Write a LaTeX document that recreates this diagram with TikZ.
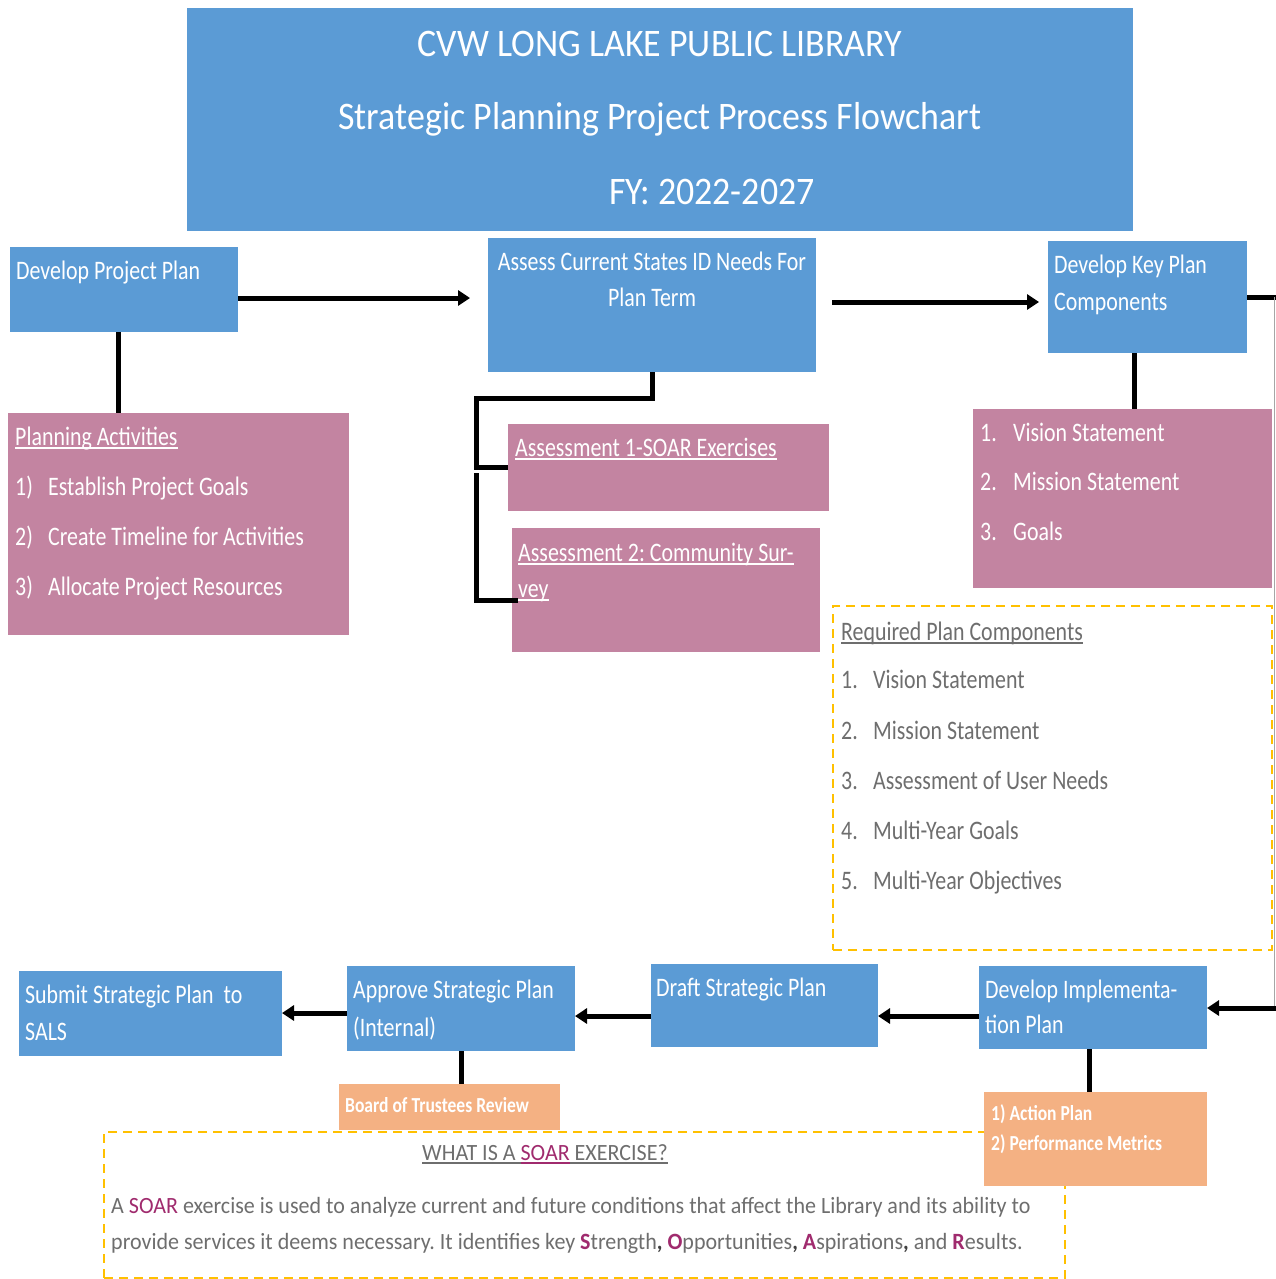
\documentclass[tikz,border=0pt]{standalone}
\usepackage{fontspec}
\setmainfont{Carlito}[FakeStretch=0.82]
\newfontfamily\titlefont{Carlito}[FakeStretch=0.92]
\newfontfamily\bodyfont{Carlito}[FakeStretch=0.945]
\usetikzlibrary{arrows.meta}
\frenchspacing
\definecolor{cblue}{HTML}{5B9BD5}
\definecolor{cpink}{HTML}{C384A1}
\definecolor{corange}{HTML}{F4B183}
\definecolor{cdash}{HTML}{FFC000}
\definecolor{cgray}{HTML}{6E6E6E}
\definecolor{cmag}{HTML}{A02B6E}
\newcommand\myul[1]{\setbox0=\hbox{#1}\rlap{\rule[-3.5pt]{\wd0}{1.8pt}}\box0}
\tikzset{
  box/.style={rectangle, inner sep=0pt, outer sep=0pt, anchor=north west, draw=none},
  bluebox/.style={box, fill=cblue},
  pinkbox/.style={box, fill=cpink},
  orangebox/.style={box, fill=corange},
  dashbox/.style={box, draw=cdash, line width=2pt, dash pattern=on 9pt off 6pt},
  txt/.style={inner sep=0pt, anchor=base west, text=white, font=\fontsize{26.7}{32}\selectfont},
  ctxt/.style={txt, anchor=base},
  gtxt/.style={txt, text=cgray},
  small/.style={txt, font=\bfseries\fontsize{21.4}{26}\selectfont},
  body/.style={txt, text=cgray, font=\bodyfont\fontsize{23.3}{28}\selectfont},
  ttl/.style={inner sep=0pt, anchor=base, text=white, font=\titlefont\fontsize{39}{44}\selectfont},
  conn/.style={line width=5pt, black},
  arr/.style={conn, -{Triangle[length=12pt,width=15pt]}},
}
\begin{document}
\begin{tikzpicture}[x=1pt,y=-1pt]
\useasboundingbox (0,0) rectangle (1276,1279);
\fill[white] (0,0) rectangle (1276,1279);

% title
\node[bluebox, minimum width=946pt, minimum height=223pt] (title) at (187,8) {};
\node[ttl] (tl1) at (660,57) {CVW LONG LAKE PUBLIC LIBRARY};
\node[ttl] (tl2) at (660,130) {Strategic Planning Project Process Flowchart};
\node[ttl] (tl3) at (712,204) {FY: 2022-2027};

% top row
\node[bluebox, minimum width=228pt, minimum height=85pt] (dpp) at (10,247) {};
\node[txt] (dppt) at (16,279) {Develop Project Plan};

\node[bluebox, minimum width=328pt, minimum height=134pt] (acs) at (488,238) {};
\node[ctxt] (acst1) at (652,270) {Assess Current States ID Needs For};
\node[ctxt] (acst2) at (652,306) {Plan Term};

\node[bluebox, minimum width=199pt, minimum height=112pt] (dkpc) at (1048,241) {};
\node[txt] (dkpct1) at (1054,273) {Develop Key Plan};
\node[txt] (dkpct2) at (1054,310) {Components};

% planning activities
\node[pinkbox, minimum width=341pt, minimum height=222pt] (pa) at (8,413) {};
\node[txt] (pah) at (15,445) {\myul{Planning Activities}};
\node[txt] (pa1) at (15,495) {\makebox[33pt][l]{1)}Establish Project Goals};
\node[txt] (pa2) at (15,545) {\makebox[33pt][l]{2)}Create Timeline for Activities};
\node[txt] (pa3) at (15,595) {\makebox[33pt][l]{3)}Allocate Project Resources};

% assessments
\node[pinkbox, minimum width=321pt, minimum height=87pt] (a1) at (508,424) {};
\node[txt] (a1t) at (515,456) {\myul{Assessment 1-SOAR Exercises}};
\node[pinkbox, minimum width=308pt, minimum height=124pt] (a2) at (512,528) {};
\node[txt] (a2t1) at (518,561) {\myul{Assessment 2: Community Sur-}};
\node[txt] (a2t2) at (518,597) {\myul{vey}};

% key list
\node[pinkbox, minimum width=299pt, minimum height=179pt] (kl) at (973,409) {};
\node[txt] (kl1) at (980,441) {\makebox[33pt][l]{1.}Vision Statement};
\node[txt] (kl2) at (980,490) {\makebox[33pt][l]{2.}Mission Statement};
\node[txt] (kl3) at (980,540) {\makebox[33pt][l]{3.}Goals};

% required
\node[dashbox, minimum width=439pt, minimum height=344pt] (req) at (833,606) {};
\node[gtxt] (reqh) at (841,640) {\myul{Required Plan Components}};
\node[gtxt] (req1) at (841,688) {\makebox[32pt][l]{1.}Vision Statement};
\node[gtxt] (req2) at (841,739) {\makebox[32pt][l]{2.}Mission Statement};
\node[gtxt] (req3) at (841,789) {\makebox[32pt][l]{3.}Assessment of User Needs};
\node[gtxt] (req4) at (841,839) {\makebox[32pt][l]{4.}Multi-Year Goals};
\node[gtxt] (req5) at (841,889) {\makebox[32pt][l]{5.}Multi-Year Objectives};

% soar box
\node[dashbox, minimum width=961pt, minimum height=146pt] (soar) at (104,1132) {};
\node[body] (soarh) at (422,1160) {\myul{WHAT IS A }\textcolor{cmag}{\myul{SOAR}}\myul{ EXERCISE?}};
\node[body] (soar1) at (111,1213) {A \textcolor{cmag}{SOAR} exercise is used to analyze current and future conditions that affect the Library and its ability to};
\node[body] (soar2) at (111,1249) {provide services it deems necessary. It identifies key \textbf{\textcolor{cmag}{S}}trength\textbf{\textcolor{black!75}{,}} \textbf{\textcolor{cmag}{O}}pportunities\textbf{\textcolor{black!75}{,}} \textbf{\textcolor{cmag}{A}}spirations\textbf{\textcolor{black!75}{,}} and \textbf{\textcolor{cmag}{R}}esults.};

% bottom row
\node[bluebox, minimum width=263pt, minimum height=85pt] (sub) at (19,971) {};
\node[txt] (subt1) at (25,1003) {Submit Strategic Plan\ \ to};
\node[txt] (subt2) at (25,1040) {SALS};

\node[bluebox, minimum width=228pt, minimum height=85pt] (apv) at (347,966) {};
\node[txt] (apvt1) at (353,998) {Approve Strategic Plan};
\node[txt] (apvt2) at (353,1036) {(Internal)};

\node[orangebox, minimum width=221pt, minimum height=46pt] (board) at (339,1084) {};
\node[small] (boardt) at (345,1112) {Board of Trustees Review};

\node[bluebox, minimum width=227pt, minimum height=83pt] (draft) at (651,964) {};
\node[txt] (draftt) at (656,996) {Draft Strategic Plan};

\node[bluebox, minimum width=228pt, minimum height=83pt] (dip) at (979,966) {};
\node[txt] (dipt1) at (985,998) {Develop Implementa-};
\node[txt] (dipt2) at (985,1033) {tion Plan};

\node[orangebox, minimum width=223pt, minimum height=94pt] (act) at (984,1092) {};
\node[small] (act1) at (991,1120) {1) Action Plan};
\node[small] (act2) at (991,1150) {2) Performance Metrics};

% helper coordinates
\coordinate (y298) at (0,298);
\coordinate (y302) at (0,302);
\coordinate (y297) at (0,297);
\coordinate (y1016) at (0,1016);
\coordinate (y1013) at (0,1013);
\coordinate (x118) at (118,0);
\coordinate (x1134) at (1134,0);
\coordinate (x461) at (461,0);
\coordinate (x1089) at (1089,0);
\coordinate (j1) at (476,398);
\coordinate (j2) at (476,473);
\coordinate (a2in) at (518,600);
\coordinate (r1) at (1274,297);
\coordinate (r2) at (1274,1008);

% connectors
\draw[conn] (dpp.south -| x118) -- (pa.north -| x118);
\draw[arr, shorten >=18pt] (dpp.east |- y298) -- (acs.west |- y298);
\draw[conn] (acs.south) |- (j1) |- (a1.west);
\draw[conn] (j2) |- (a2in);
\draw[arr, shorten <=16pt, shorten >=9pt] (acs.east |- y302) -- (dkpc.west |- y302);
\draw[conn] (dkpc.south -| x1134) -- (kl.north -| x1134);
\draw[conn] (dkpc.east |- y297) -- (r1 |- y297) -- ++(2,0);
\draw[line width=1pt, black!35] (r1) -- (r2);
\draw[arr] (r2) -- ++(2,0) -- (dip.east |- r2);
\draw[arr] (dip.west |- y1016) -- (draft.east |- y1016);
\draw[arr] (draft.west |- y1016) -- (apv.east |- y1016);
\draw[arr] (apv.west |- y1013) -- (sub.east |- y1013);
\draw[conn] (apv.south -| x461) -- (board.north -| x461);
\draw[conn] (dip.south -| x1089) -- (act.north -| x1089);
\end{tikzpicture}
\end{document}
